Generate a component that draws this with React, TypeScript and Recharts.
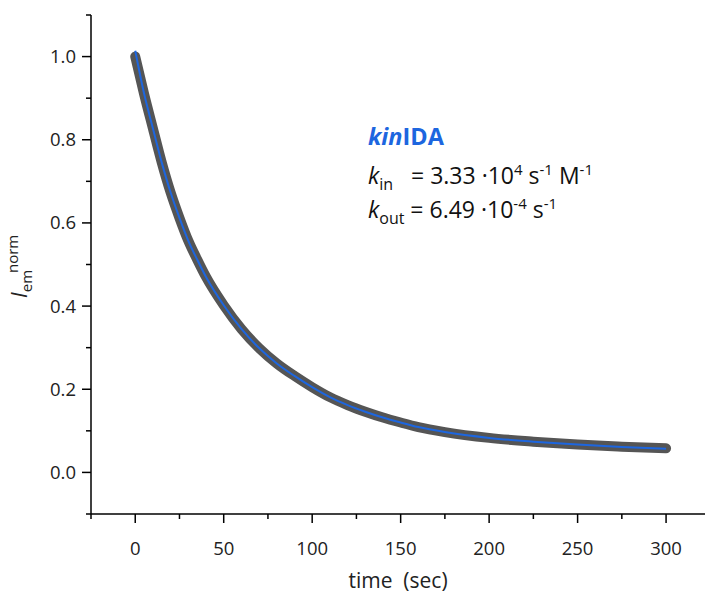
import { LineChart, Line, XAxis, YAxis } from 'recharts'

// time axis (sec) and the normalised emission
const TIME = [0, 5, 10, 15, 20, 25, 30, 35, 40, 50, 60, 70, 80, 90, 100, 110, 120, 130, 140, 150, 160, 175, 200, 225, 250, 275, 300]
const MEASURED = [1.0, 0.91, 0.827, 0.745, 0.673, 0.612, 0.557, 0.512, 0.47, 0.402, 0.345, 0.299, 0.262, 0.232, 0.205, 0.181, 0.162, 0.146, 0.132, 0.12, 0.109, 0.097, 0.083, 0.074, 0.067, 0.062, 0.058]
const FIT = [1.014, 0.911, 0.827, 0.745, 0.673, 0.612, 0.557, 0.512, 0.47, 0.402, 0.345, 0.299, 0.262, 0.232, 0.205, 0.181, 0.162, 0.146, 0.132, 0.12, 0.109, 0.097, 0.083, 0.074, 0.067, 0.061, 0.057]

const X_TICKS = [-25, 0, 25, 50, 75, 100, 125, 150, 175, 200, 225, 250, 275, 300]
const Y_TICKS = [-0.1, 0, 0.1, 0.2, 0.3, 0.4, 0.5, 0.6, 0.7, 0.8, 0.9, 1.0, 1.1]

const FONT = '"Open Sans", sans-serif'
const GREY = '#555555'
const BLUE = '#1d66df'

const data = TIME.map((t, i) => ({ t, measured: MEASURED[i], fit: FIT[i] }))

function XTick({ x, y, payload }: any) {
  const v = payload.value
  const major = v % 50 === 0
  return (
    <g>
      <line x1={x} x2={x} y1={y} y2={y + (major ? 9 : 5)} stroke="#000" strokeWidth={1.5} />
      {major && (
        <text x={x} y={y + 41} textAnchor="middle" fontSize={18.5} fontFamily={FONT} fill="#222">
          {v}
        </text>
      )}
    </g>
  )
}

function YTick({ x, y, payload }: any) {
  const v = payload.value
  const major = Math.round(v * 10) % 2 === 0
  return (
    <g>
      <line x1={x} x2={x - (major ? 9 : 5)} y1={y} y2={y} stroke="#000" strokeWidth={1.5} />
      {major && (
        <text x={x - 15} y={y + 6.5} textAnchor="end" fontSize={18.5} fontFamily={FONT} fill="#222">
          {v.toFixed(1)}
        </text>
      )}
    </g>
  )
}

export default function App() {
  return (
    <div style={{ position: 'relative', width: 705, height: 595, background: '#fff' }}>
      <style>{'body{margin:0}'}</style>
      <LineChart width={705} height={595} data={data} margin={{ top: 15, right: 0, left: 0, bottom: 0 }}>
        <XAxis
          dataKey="t"
          type="number"
          domain={[-25, 322]}
          ticks={X_TICKS}
          interval={0}
          height={81}
          tickSize={0}
          tickMargin={0}
          tickLine={false}
          axisLine={{ stroke: '#000', strokeWidth: 1.5 }}
          tick={(p: any) => <XTick {...p} />}
        />
        <YAxis
          type="number"
          domain={[-0.1, 1.1]}
          ticks={Y_TICKS}
          interval={0}
          width={91}
          tickSize={0}
          tickMargin={0}
          tickLine={false}
          axisLine={{ stroke: '#000', strokeWidth: 1.5 }}
          tick={(p: any) => <YTick {...p} />}
        />
        <Line type="monotone" dataKey="measured" stroke={GREY} strokeWidth={10} strokeLinecap="round" dot={false} isAnimationActive={false} />
        <Line type="monotone" dataKey="fit" stroke={BLUE} strokeWidth={2} dot={false} isAnimationActive={false} />
      </LineChart>

      <svg width={705} height={595} style={{ position: 'absolute', left: 0, top: 0, pointerEvents: 'none' }}>
        {/* y axis title */}
        <text transform="translate(27,298) rotate(-90)" fontFamily={FONT} fontSize={21} fill="#222">
          <tspan fontStyle="italic">I</tspan>
          <tspan fontSize={15} dy={5}>em</tspan>
          <tspan fontSize={15} dy={-14} dx={-3}>norm</tspan>
        </text>

        {/* x axis title */}
        <text x={398} y={588} textAnchor="middle" fontFamily={FONT} fontSize={21} fill="#222">
          {'time\u00a0\u00a0(sec)'}
        </text>

        {/* annotation */}
        <text x={368} y={145} fontFamily={FONT} fontSize={23.5} fontWeight="bold" fill={BLUE}>
          <tspan fontStyle="italic">kin</tspan>
          <tspan>IDA</tspan>
        </text>
        <text x={368} y={184} fontFamily={FONT} fontSize={23} fill="#111">
          <tspan fontStyle="italic">k</tspan>
          <tspan fontSize={16} dy={6}>in</tspan>
          <tspan dy={-6}>{'\u00a0\u00a0 = 3.33 \u00b710'}</tspan>
          <tspan fontSize={15} dy={-9}>4</tspan>
          <tspan dy={9}>{' s'}</tspan>
          <tspan fontSize={15} dy={-9}>-1</tspan>
          <tspan dy={9}>{' M'}</tspan>
          <tspan fontSize={15} dy={-9}>-1</tspan>
        </text>
        <text x={368} y={218} fontFamily={FONT} fontSize={23} fill="#111">
          <tspan fontStyle="italic">k</tspan>
          <tspan fontSize={16} dy={6}>out</tspan>
          <tspan dy={-6}>{' = 6.49 \u00b710'}</tspan>
          <tspan fontSize={15} dy={-9}>-4</tspan>
          <tspan dy={9}>{' s'}</tspan>
          <tspan fontSize={15} dy={-9}>-1</tspan>
        </text>
      </svg>
    </div>
  )
}
